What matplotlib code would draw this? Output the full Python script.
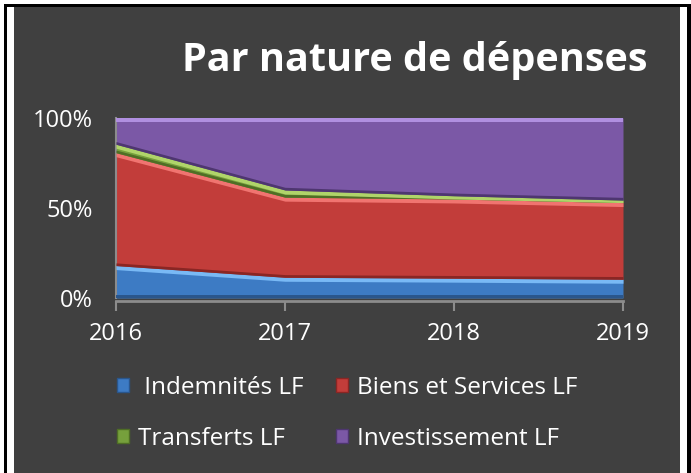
import matplotlib
matplotlib.use("Agg")
import matplotlib.pyplot as plt
import numpy as np
from matplotlib.patches import Rectangle

years = ["2016", "2017", "2018", "2019"]
indemnites = [18.0, 11.5, 11.0, 10.4]
biens = [62.7, 44.5, 44.0, 42.6]
transferts = [4.7, 4.0, 1.8, 1.4]
investissement = [14.6, 40.0, 43.2, 45.6]
series_names = [" Indemnités LF", "Biens et Services LF", "Transferts LF", "Investissement LF"]
yticks = [0, 50, 100]
ytick_labels = ["0%", "50%", "100%"]
title = "Par nature de dépenses"

colors = ["#3d7bc4", "#c23d3a", "#76a03c", "#7b58a6"]
highlights = ["#79b9f5", "#f07470", "#b0d46a", "#b08fe0"]
shadows = ["#2a568c", "#8a2624", "#4f6e25", "#4e3670"]

FONT = "Open Sans"
W, H = 691, 473
fig = plt.figure(figsize=(W / 100, H / 100), dpi=100)
fig.patch.set_facecolor("white")

def px(x0, y0, w, h, color):
    fig.patches.append(Rectangle((x0 / W, 1 - (y0 + h) / H), w / W, h / H,
                                 transform=fig.transFigure, facecolor=color,
                                 edgecolor="none", zorder=-10))

px(14, 7, 666, H - 7, "#404040")
px(4, 4, W - 4, 3, "black")
px(4, 4, 3, H - 4, "black")
px(687, 4, 4, H - 4, "black")

ax = fig.add_axes([116 / W, 1 - 298 / H, 507 / W, 180 / H])
ax.set_zorder(5)
ax.set_facecolor("none")
x = np.arange(len(years))
data = [indemnites, biens, transferts, investissement]
tot = np.array(indemnites) + np.array(biens) + np.array(transferts) + np.array(investissement)
base = np.zeros(len(years))
for vals, c, hl, sh, name in zip(data, colors, highlights, shadows, series_names):
    v = np.array(vals) / tot * 100
    top = base + v
    ax.fill_between(x, base, top, color=c, linewidth=0, zorder=2)
    ax.fill_between(x, base, np.minimum(base + 1.5, top), color=sh, linewidth=0, zorder=3)
    ax.fill_between(x, np.maximum(top - 2.2, base), top, color=hl, linewidth=0, zorder=3)
    base = top

ax.set_xlim(0, len(years) - 1)
ax.set_ylim(0, 100)
ax.set_xticks(x)
ax.set_xticklabels(years)
ax.set_yticks(yticks)
ax.set_yticklabels(ytick_labels)
for s in ["top", "right"]:
    ax.spines[s].set_visible(False)
ax.spines["left"].set_color("#8c8c8c")
ax.spines["left"].set_linewidth(1.5)
ax.spines["bottom"].set_color("#8c8c8c")
ax.spines["bottom"].set_linewidth(2)
ax.spines["bottom"].set_position(("outward", 2))
ax.tick_params(axis="x", colors="#8c8c8c", length=7, width=1.5, direction="out",
               labelcolor="white", labelsize=17, pad=8)
ax.tick_params(axis="y", length=0, labelcolor="white", labelsize=17, pad=16.5)
for lab in ax.get_xticklabels() + ax.get_yticklabels():
    lab.set_fontfamily(FONT)

fig.text(648 / W, 1 - 60 / H, title, ha="right", va="center", color="white",
         fontsize=28.5, fontweight="bold", fontfamily=FONT)

handles = [Rectangle((0, 0), 1, 1, facecolor=c, edgecolor=sh, linewidth=1)
           for c, sh in zip(colors, shadows)]
order = [0, 2, 1, 3]
leg = fig.legend([handles[i] for i in order], [series_names[i] for i in order],
                 loc="upper left", ncol=2, borderaxespad=0, borderpad=0,
                 bbox_to_anchor=(117 / W, 1 - 376 / H), frameon=False,
                 prop={"family": FONT, "size": 17.5}, labelcolor="white",
                 handlelength=0.5, handleheight=0.5, handletextpad=0.35,
                 columnspacing=1.35, labelspacing=1.1)

fig.savefig("out.png", dpi=100, facecolor=fig.get_facecolor())
